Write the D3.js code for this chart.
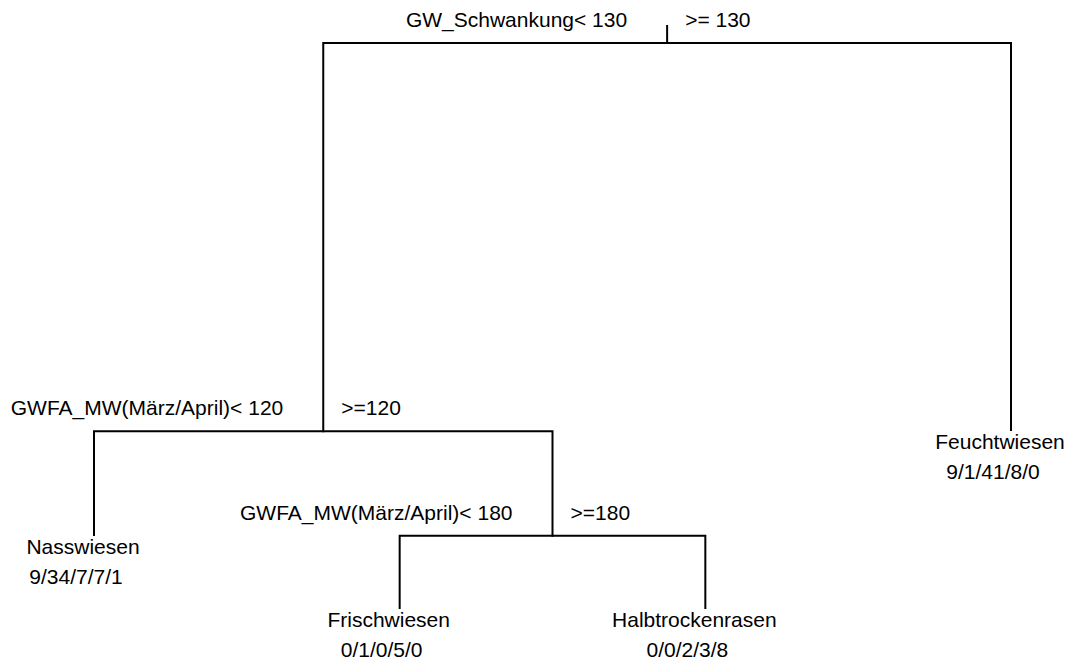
<!DOCTYPE html>
<html>
<head>
<meta charset="utf-8">
<script src="https://cdn.jsdelivr.net/npm/d3@7"></script>
<style>
  html, body { margin: 0; padding: 0; background: #fff; }
  svg { display: block; }
  text { font-family: "Liberation Sans", Arial, sans-serif; font-size: 21px; fill: #000; }
</style>
</head>
<body>
<svg id="chart" width="1069" height="661"></svg>
<script>
// ---- data ----
const nodeIds      = ["root", "n2", "n3", "Nasswiesen", "Feuchtwiesen", "Frischwiesen", "Halbtrockenrasen"];
const nodeParents  = [null, "root", "n2", "n2", "root", "n3", "n3"];
const nodeSide     = [null, "L", "R", "L", "R", "L", "R"];
// vertical level of each node (100 = top, 0 = bottom)
const nodeHeight   = [100, 31.3, 12.8, 12.9, 31.5, 0, 0];
const leafOrder    = ["Nasswiesen", "Frischwiesen", "Halbtrockenrasen", "Feuchtwiesen"];
const splitLeft    = { root: "GW_Schwankung< 130", n2: "GWFA_MW(März/April)< 120", n3: "GWFA_MW(März/April)< 180" };
const splitRight   = { root: ">= 130", n2: ">=120", n3: ">=180" };
const leafCounts   = { Nasswiesen: "9/34/7/7/1", Feuchtwiesen: "9/1/41/8/0", Frischwiesen: "0/1/0/5/0", Halbtrockenrasen: "0/0/2/3/8" };

// ---- build hierarchy ----
const table = nodeIds.map((id, i) => ({ id, parent: nodeParents[i], side: nodeSide[i], h: nodeHeight[i] }));
const root = d3.stratify().id(d => d.id).parentId(d => d.parent)(table);
root.each(n => { if (n.children) n.children.sort((a, b) => (a.data.side === "L" ? -1 : 1)); });

const x = d3.scaleLinear().domain([1, leafOrder.length]).range([94, 1011]);
const y = d3.scaleLinear().domain([100, 0]).range([43, 608]);

root.eachAfter(n => {
  if (!n.children) n.px = x(leafOrder.indexOf(n.id) + 1);
  else n.px = d3.mean(n.children, c => c.px);
  n.py = y(n.data.h);
});

const svg = d3.select("#chart");
const g = svg.append("g");
const line = { stroke: "#000", "stroke-width": 2, fill: "none" };

function path(p) {
  const el = g.append("path").attr("d", p);
  Object.entries(line).forEach(([k, v]) => el.attr(k, v));
  el.attr("stroke-linecap", "square");
}

// root stub
path(`M${root.px},${root.py - 17}V${root.py}`);
// branches
root.each(n => {
  if (!n.children) return;
  const [l, r] = n.children;
  path(`M${l.px},${l.py}V${n.py}H${r.px}V${r.py}`);
  // split labels
  g.append("text").attr("x", n.px - 40).attr("y", n.py - 16).attr("text-anchor", "end").text(splitLeft[n.id]);
  g.append("text").attr("x", n.px + 18).attr("y", n.py - 16).attr("text-anchor", "start").text(splitRight[n.id]);
});
// leaves
root.leaves().forEach(n => {
  g.append("text").attr("x", n.px - 11).attr("y", n.py + 19).attr("text-anchor", "middle").text(n.id);
  g.append("text").attr("x", n.px - 18).attr("y", n.py + 49).attr("text-anchor", "middle").text(leafCounts[n.id]);
});
</script>
</body>
</html>
